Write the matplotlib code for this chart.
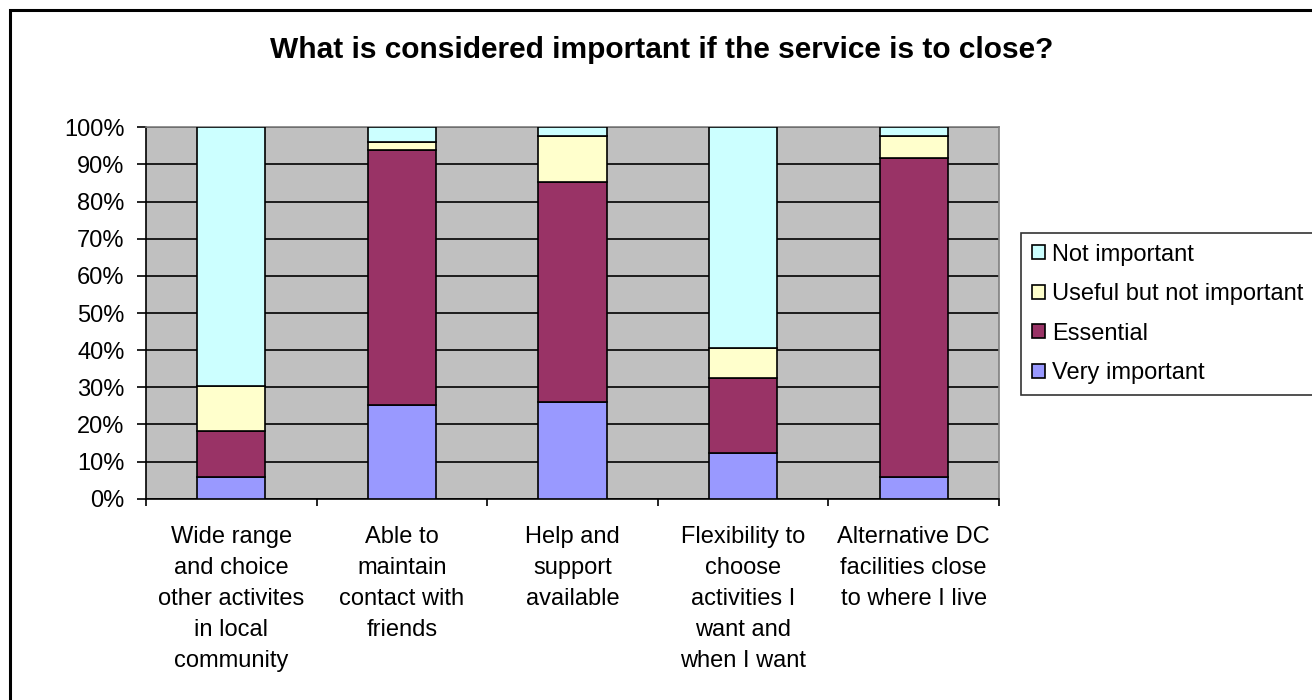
import matplotlib
matplotlib.use("Agg")
import matplotlib.pyplot as plt
from matplotlib.patches import Rectangle
from matplotlib.ticker import FixedLocator, PercentFormatter
import numpy as np

plt.rcParams['font.family'] = ['Liberation Sans', 'DejaVu Sans']

title = "What is considered important if the service is to close?"
categories = [
    "Wide range\nand choice\nother activites\nin local\ncommunity",
    "Able to\nmaintain\ncontact with\nfriends",
    "Help and\nsupport\navailable",
    "Flexibility to\nchoose\nactivities I\nwant and\nwhen I want",
    "Alternative DC\nfacilities close\nto where I live",
]
series_names = ["Very important", "Essential", "Useful but not important", "Not important"]
very_important = [5.8, 25.1, 26.1, 12.2, 5.8]
essential = [12.3, 68.8, 59.3, 20.4, 85.9]
useful = [12.3, 2.1, 12.3, 8.1, 6.0]
not_important = [69.6, 4.0, 2.3, 59.3, 2.3]
colors = ["#9999FF", "#993366", "#FFFFCC", "#CCFFFF"]

W, H = 1312, 700
fig = plt.figure(figsize=(W / 100, H / 100), dpi=100)
fig.patch.set_facecolor("white")

ax = fig.add_axes([146 / W, 1 - 498.7 / H, (999 - 146) / W, (498.7 - 127.3) / H])
ax.set_facecolor("#C0C0C0")

x = np.arange(len(categories))
bottom = np.zeros(len(categories))
handles = []
for name, vals, col in zip(series_names, [very_important, essential, useful, not_important], colors):
    b = ax.bar(x, vals, width=0.4, bottom=bottom, color=col, edgecolor="black",
               linewidth=1.2, label=name, zorder=3)
    handles.append(b)
    bottom = bottom + np.array(vals)

ax.set_xlim(-0.5, len(categories) - 0.5)
ax.set_ylim(0, 100)
ax.set_yticks(np.arange(0, 101, 10))
ax.yaxis.set_major_formatter(PercentFormatter(decimals=0))
ax.yaxis.grid(True, color="black", linewidth=1.2, zorder=1)
ax.set_axisbelow(True)

ax.set_xticks(x)
ax.set_xticklabels(categories, fontsize=17, linespacing=1.52, va="top")
ax.tick_params(axis="x", which="major", length=0, pad=20)
ax.xaxis.set_minor_locator(FixedLocator(np.arange(-0.5, len(categories), 1.0)))
ax.tick_params(axis="x", which="minor", length=5, width=1.2, color="black", direction="out")
ax.tick_params(axis="y", which="major", length=6.5, width=1.2, direction="out", pad=9, labelsize=17)

for s in ["left", "bottom"]:
    ax.spines[s].set_color("black")
    ax.spines[s].set_linewidth(1.2)
for s in ["top", "right"]:
    ax.spines[s].set_color("#808080")
    ax.spines[s].set_linewidth(1.2)

fig.text(662 / W, 1 - 58 / H, title, ha="center", va="baseline",
         fontsize=21.5, fontweight="bold")

leg = fig.legend(handles=handles[::-1], labels=series_names[::-1],
                 loc="upper left", bbox_to_anchor=(1021 / W, 1 - 233 / H),
                 borderaxespad=0, fontsize=17, frameon=True, fancybox=False,
                 edgecolor="black", handlelength=0.55, handleheight=0.55,
                 handletextpad=0.3, labelspacing=0.74, borderpad=0.45)
leg.get_frame().set_linewidth(1.2)

border = Rectangle((10 / W, -0.1), 1.2, 1 - 10 / H + 0.1, transform=fig.transFigure,
                   fill=False, edgecolor="black", linewidth=2.2)
fig.patches.append(border)

fig.savefig("out.png", dpi=100)
